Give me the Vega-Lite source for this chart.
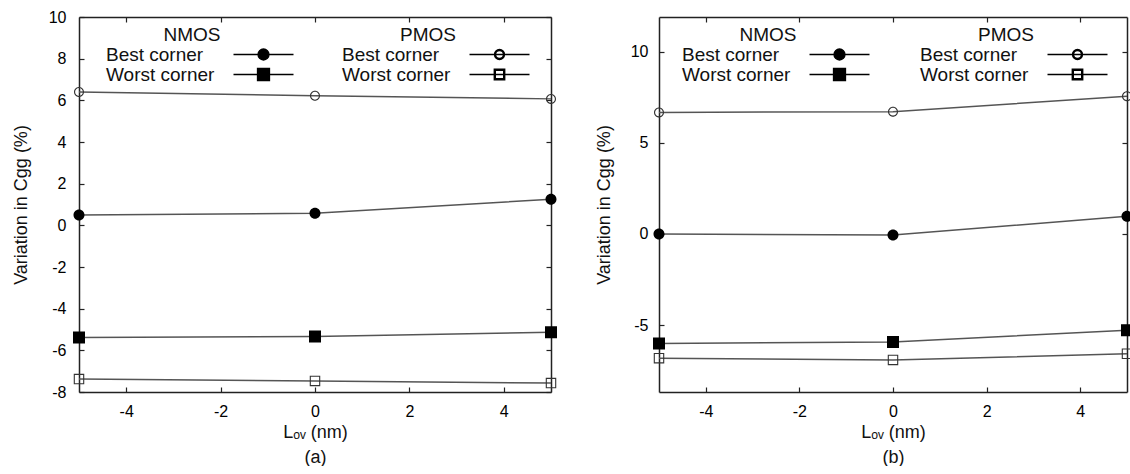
{
  "$schema": "https://vega.github.io/schema/vega-lite/v6.json",
  "padding": {"left": 12, "top": 9, "right": 0, "bottom": 0},
  "background": "#ffffff",
  "datasets": {
    "pts": [
      {"panel": "a", "type": "NMOS", "corner": "Best corner", "series": "a NMOS Best", "lov": -5, "v": 0.5},
      {"panel": "a", "type": "NMOS", "corner": "Best corner", "series": "a NMOS Best", "lov": 0, "v": 0.58},
      {"panel": "a", "type": "NMOS", "corner": "Best corner", "series": "a NMOS Best", "lov": 5, "v": 1.25},
      {"panel": "a", "type": "NMOS", "corner": "Worst corner", "series": "a NMOS Worst", "lov": -5, "v": -5.38},
      {"panel": "a", "type": "NMOS", "corner": "Worst corner", "series": "a NMOS Worst", "lov": 0, "v": -5.33},
      {"panel": "a", "type": "NMOS", "corner": "Worst corner", "series": "a NMOS Worst", "lov": 5, "v": -5.13},
      {"panel": "a", "type": "PMOS", "corner": "Best corner", "series": "a PMOS Best", "lov": -5, "v": 6.4},
      {"panel": "a", "type": "PMOS", "corner": "Best corner", "series": "a PMOS Best", "lov": 0, "v": 6.22},
      {"panel": "a", "type": "PMOS", "corner": "Best corner", "series": "a PMOS Best", "lov": 5, "v": 6.07},
      {"panel": "a", "type": "PMOS", "corner": "Worst corner", "series": "a PMOS Worst", "lov": -5, "v": -7.38},
      {"panel": "a", "type": "PMOS", "corner": "Worst corner", "series": "a PMOS Worst", "lov": 0, "v": -7.47},
      {"panel": "a", "type": "PMOS", "corner": "Worst corner", "series": "a PMOS Worst", "lov": 5, "v": -7.57},
      {"panel": "b", "type": "NMOS", "corner": "Best corner", "series": "b NMOS Best", "lov": -5, "v": 0.0},
      {"panel": "b", "type": "NMOS", "corner": "Best corner", "series": "b NMOS Best", "lov": 0, "v": -0.05},
      {"panel": "b", "type": "NMOS", "corner": "Best corner", "series": "b NMOS Best", "lov": 5, "v": 0.97},
      {"panel": "b", "type": "NMOS", "corner": "Worst corner", "series": "b NMOS Worst", "lov": -5, "v": -6.02},
      {"panel": "b", "type": "NMOS", "corner": "Worst corner", "series": "b NMOS Worst", "lov": 0, "v": -5.93},
      {"panel": "b", "type": "NMOS", "corner": "Worst corner", "series": "b NMOS Worst", "lov": 5, "v": -5.29},
      {"panel": "b", "type": "PMOS", "corner": "Best corner", "series": "b PMOS Best", "lov": -5, "v": 6.68},
      {"panel": "b", "type": "PMOS", "corner": "Best corner", "series": "b PMOS Best", "lov": 0, "v": 6.72},
      {"panel": "b", "type": "PMOS", "corner": "Best corner", "series": "b PMOS Best", "lov": 5, "v": 7.57},
      {"panel": "b", "type": "PMOS", "corner": "Worst corner", "series": "b PMOS Worst", "lov": -5, "v": -6.82},
      {"panel": "b", "type": "PMOS", "corner": "Worst corner", "series": "b PMOS Worst", "lov": 0, "v": -6.92},
      {"panel": "b", "type": "PMOS", "corner": "Worst corner", "series": "b PMOS Worst", "lov": 5, "v": -6.58}
    ]
  },
  "spacing": 14,
  "resolve": {"scale": {"shape": "independent"}, "legend": {"shape": "independent"}},
  "hconcat": [
    {
      "width": 472,
      "height": 375,
      "data": {"name": "pts"},
      "transform": [{"filter": "datum.panel === 'a'"}],
      "layer": [
        {
          "mark": {"type": "line", "color": "#555555", "strokeWidth": 1.5},
          "encoding": {
            "x": {"field": "lov", "type": "quantitative", "scale": {"domain": [-5, 5], "nice": false, "zero": false},
              "axis": {"orient": "bottom", "values": [-4, -2, 0, 2, 4], "title": ["Lₒᵥ (nm)", "(a)"], "tickSize": -5, "labelPadding": 16, "titlePadding": 4, "titleLineHeight": 25}},
            "y": {"field": "v", "type": "quantitative", "scale": {"domain": [-8, 10], "nice": false, "zero": false},
              "axis": {"orient": "left", "values": [-8, -6, -4, -2, 0, 2, 4, 6, 8, 10], "title": "Variation in Cgg (%)", "tickSize": -5, "labelPadding": 18, "titlePadding": 18}},
            "detail": {"field": "series", "type": "nominal"}
          }
        },
        {
          "transform": [{"filter": "datum.type === 'NMOS'"}],
          "mark": {"type": "point", "filled": true, "color": "#000000", "size": 100, "opacity": 1},
          "encoding": {
            "x": {"field": "lov", "type": "quantitative", "axis": null},
            "y": {"field": "v", "type": "quantitative", "axis": null},
            "stroke": {"value": "#000000"},
            "strokeWidth": {"value": 0},
            "shape": {"field": "corner", "type": "nominal",
              "scale": {"domain": ["Best corner", "Worst corner"], "range": ["M-6,0H-1.1M1.1,0H6M-1.1,0A1.1,1.1 0 1,0 1.1,0A1.1,1.1 0 1,0 -1.1,0Z", "M-6,0H-1.2M1.2,0H6M-1.2,-1.2H1.2V1.2H-1.2Z"]},
              "legend": {"title": "NMOS", "orient": "none", "legendX": 8, "legendY": 9,
                "symbolOffset": 167, "labelOffset": -167, "titleAnchor": "middle"}
            }
          }
        },
        {
          "transform": [{"filter": "datum.type === 'PMOS'"}],
          "mark": {"type": "point", "filled": true, "color": "#333333", "size": 100, "opacity": 1},
          "encoding": {
            "x": {"field": "lov", "type": "quantitative",
              "axis": {"orient": "top", "values": [-4, -2, 0, 2, 4], "labels": false, "title": null, "tickSize": -5}},
            "y": {"field": "v", "type": "quantitative",
              "axis": {"orient": "right", "values": [-8, -6, -4, -2, 0, 2, 4, 6, 8, 10], "labels": false, "title": null, "tickSize": -5}},
            "stroke": {"value": "#000000"},
            "strokeWidth": {"value": 0},
            "shape": {"field": "corner", "type": "nominal",
              "scale": {"domain": ["Best corner", "Worst corner"], "range": ["M-6,0H6M-1,0A1,1 0 1,1 1,0A1,1 0 1,1 -1,0ZM-0.78,0A0.78,0.78 0 1,0 0.78,0A0.78,0.78 0 1,0 -0.78,0Z", "M-6,0H6M-1.05,-1.05H1.05V1.05H-1.05ZM-0.83,-0.83V0.83H0.83V-0.83Z"]},
              "legend": {"title": "PMOS", "orient": "none", "legendX": 244, "legendY": 9,
                "symbolOffset": 167, "labelOffset": -167, "titleAnchor": "middle"}
            }
          }
        }
      ],
      "resolve": {"scale": {"shape": "independent"}, "legend": {"shape": "independent"}, "axis": {"x": "independent", "y": "independent"}}
    },
    {
      "width": 468,
      "height": 375,
      "data": {"name": "pts"},
      "transform": [{"filter": "datum.panel === 'b'"}],
      "layer": [
        {
          "mark": {"type": "line", "color": "#555555", "strokeWidth": 1.5},
          "encoding": {
            "x": {"field": "lov", "type": "quantitative", "scale": {"domain": [-5, 5], "nice": false, "zero": false},
              "axis": {"orient": "bottom", "values": [-4, -2, 0, 2, 4], "title": ["Lₒᵥ (nm)", "(b)"], "tickSize": -5, "labelPadding": 16, "titlePadding": 4, "titleLineHeight": 25}},
            "y": {"field": "v", "type": "quantitative", "scale": {"domain": [-8.68, 11.92], "nice": false, "zero": false},
              "axis": {"orient": "left", "values": [-5, 0, 5, 10], "title": "Variation in Cgg (%)", "tickSize": -5, "labelPadding": 16, "titlePadding": 17}},
            "detail": {"field": "series", "type": "nominal"}
          }
        },
        {
          "transform": [{"filter": "datum.type === 'NMOS'"}],
          "mark": {"type": "point", "filled": true, "color": "#000000", "size": 100, "opacity": 1},
          "encoding": {
            "x": {"field": "lov", "type": "quantitative", "axis": null},
            "y": {"field": "v", "type": "quantitative", "axis": null},
            "stroke": {"value": "#000000"},
            "strokeWidth": {"value": 0},
            "shape": {"field": "corner", "type": "nominal",
              "scale": {"domain": ["Best corner", "Worst corner"], "range": ["M-6,0H-1.1M1.1,0H6M-1.1,0A1.1,1.1 0 1,0 1.1,0A1.1,1.1 0 1,0 -1.1,0Z", "M-6,0H-1.2M1.2,0H6M-1.2,-1.2H1.2V1.2H-1.2Z"]},
              "legend": {"title": "NMOS", "orient": "none", "legendX": 4, "legendY": 9,
                "symbolOffset": 167, "labelOffset": -167, "titleAnchor": "middle"}
            }
          }
        },
        {
          "transform": [{"filter": "datum.type === 'PMOS'"}],
          "mark": {"type": "point", "filled": true, "color": "#333333", "size": 100, "opacity": 1},
          "encoding": {
            "x": {"field": "lov", "type": "quantitative",
              "axis": {"orient": "top", "values": [-4, -2, 0, 2, 4], "labels": false, "title": null, "tickSize": -5}},
            "y": {"field": "v", "type": "quantitative",
              "axis": {"orient": "right", "values": [-5, 0, 5, 10], "labels": false, "title": null, "tickSize": -5}},
            "stroke": {"value": "#000000"},
            "strokeWidth": {"value": 0},
            "shape": {"field": "corner", "type": "nominal",
              "scale": {"domain": ["Best corner", "Worst corner"], "range": ["M-6,0H6M-1,0A1,1 0 1,1 1,0A1,1 0 1,1 -1,0ZM-0.78,0A0.78,0.78 0 1,0 0.78,0A0.78,0.78 0 1,0 -0.78,0Z", "M-6,0H6M-1.05,-1.05H1.05V1.05H-1.05ZM-0.83,-0.83V0.83H0.83V-0.83Z"]},
              "legend": {"title": "PMOS", "orient": "none", "legendX": 242, "legendY": 9,
                "symbolOffset": 167, "labelOffset": -167, "titleAnchor": "middle"}
            }
          }
        }
      ],
      "resolve": {"scale": {"shape": "independent"}, "legend": {"shape": "independent"}, "axis": {"x": "independent", "y": "independent"}}
    }
  ],
  "config": {
    "font": "Liberation Sans",
    "view": {"stroke": null},
    "axis": {
      "grid": false,
      "domainColor": "#222222", "domainWidth": 1.5,
      "tickColor": "#222222", "tickWidth": 1.2,
      "labelColor": "#000000", "labelFontSize": 16, "labelFont": "Liberation Sans",
      "labelExpr": "toString(datum.value)",
      "titleColor": "#111111", "titleFontSize": 18, "titleFontWeight": "normal", "titleFont": "Liberation Sans"
    },
    "legend": {
      "padding": 0,
      "titleFontSize": 19, "titleFontWeight": "normal", "titleColor": "#111111", "titleFont": "Liberation Sans", "titlePadding": 0,
      "labelFontSize": 19, "labelColor": "#111111", "labelFont": "Liberation Sans",
      "symbolSize": 100, "symbolStrokeWidth": 1.3, "rowPadding": -1, "symbolOpacity": 1
    }
  }
}
